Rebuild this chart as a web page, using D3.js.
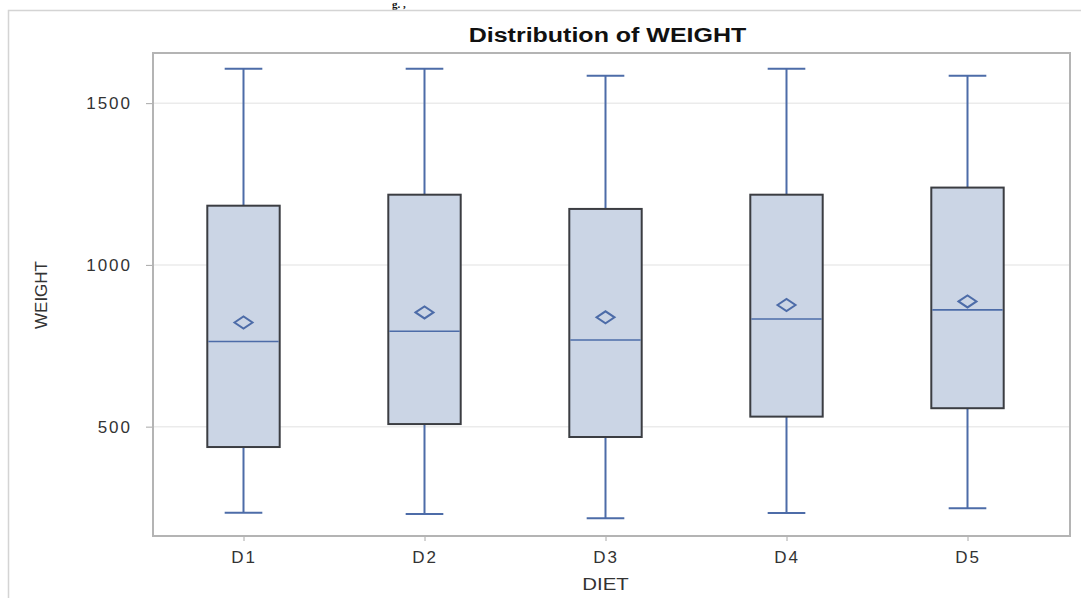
<!DOCTYPE html>
<html>
<head>
<meta charset="utf-8">
<script src="https://cdn.jsdelivr.net/npm/d3@7"></script>
<style>
  body { margin: 0; background: #fff; }
  svg { display: block; }
  text { font-family: "Liberation Sans", Arial, sans-serif; }
</style>
</head>
<body>
<div id="chart"></div>
<script>
// values
var diets = ['D1', 'D2', 'D3', 'D4', 'D5'];
var lowWhisker = [234, 230, 217, 233, 248];
var q1 = [437, 508, 468, 531, 557];
var median = [763, 795, 768, 833, 861];
var q3 = [1183, 1217, 1173, 1217, 1239];
var highWhisker = [1606, 1606, 1585, 1606, 1585];
var means = [822, 853, 838, 876, 887];
var yTicks = [500, 1000, 1500];

var width = 1081, height = 598,
    plotLeft = 153, plotRight = 1070, plotTop = 53, plotBottom = 536,
    stretch = 1.2; // the source picture is a little wider than tall

var svg = d3.select('#chart').append('svg')
    .attr('width', width)
    .attr('height', height);

// bit of caption left above the graph
svg.append('text')
    .attr('x', 392).attr('y', 8)
    .style('font-family', '"Liberation Serif", serif')
    .style('font-size', '11px')
    .style('font-weight', 'bold')
    .attr('fill', '#111')
    .text('g. ,');

// outer frame of the graph
svg.append('rect')
    .attr('x', 8.5).attr('y', 10.5)
    .attr('width', width + 10).attr('height', height)
    .attr('fill', 'none')
    .attr('stroke', '#d4d4d4')
    .attr('stroke-width', 1.5);

var x = d3.scalePoint().domain(diets).range([plotLeft, plotRight - 12]).padding(0.5),
    y = d3.scaleLinear().domain([162, 1655]).range([plotBottom, plotTop]),
    boxW = x.step() * 0.4,
    capW = boxW * 0.52;

var rows = diets.map(function(d, i) {
    return {diet: d, lo: lowWhisker[i], q1: q1[i], med: median[i], q3: q3[i], hi: highWhisker[i], mean: means[i]};
});

// grid lines
svg.append('g').selectAll('line')
    .data(yTicks)
    .enter().append('line')
    .attr('x1', plotLeft).attr('x2', plotRight)
    .attr('y1', function(d) { return y(d); })
    .attr('y2', function(d) { return y(d); })
    .attr('stroke', '#ebebeb')
    .attr('stroke-width', 1.5);

// axes
var yAxis = svg.append('g')
    .attr('transform', 'translate(' + plotLeft + ',0)')
    .call(d3.axisLeft(y).tickValues(yTicks).tickSize(7).tickPadding(14).tickFormat(d3.format('d')));
var xAxis = svg.append('g')
    .attr('transform', 'translate(0,' + plotBottom + ')')
    .call(d3.axisBottom(x).tickSize(5).tickPadding(10));

[yAxis, xAxis].forEach(function(a) {
    a.select('.domain').remove();
    a.selectAll('line').attr('stroke', '#a8a8a8');
    a.selectAll('text')
        .attr('fill', '#333')
        .style('font-size', '17px')
        .style('letter-spacing', '2px');
});

// plot frame
svg.append('rect')
    .attr('x', plotLeft).attr('y', plotTop)
    .attr('width', plotRight - plotLeft).attr('height', plotBottom - plotTop)
    .attr('fill', 'none')
    .attr('stroke', '#b4b4b4')
    .attr('stroke-width', 2);

var boxes = svg.append('g').selectAll('g')
    .data(rows)
    .enter().append('g')
    .attr('transform', function(d) { return 'translate(' + x(d.diet) + ',0)'; });

var blue = '#4d6ca8';

// whiskers
boxes.append('line')
    .attr('y1', function(d) { return y(d.lo); })
    .attr('y2', function(d) { return y(d.hi); })
    .attr('stroke', blue).attr('stroke-width', 2);

boxes.selectAll('.cap')
    .data(function(d) { return [d.lo, d.hi]; })
    .enter().append('line')
    .attr('class', 'cap')
    .attr('x1', -capW / 2).attr('x2', capW / 2)
    .attr('y1', function(v) { return y(v); })
    .attr('y2', function(v) { return y(v); })
    .attr('stroke', blue).attr('stroke-width', 2);

boxes.append('rect')
    .attr('x', -boxW / 2)
    .attr('width', boxW)
    .attr('y', function(d) { return y(d.q3); })
    .attr('height', function(d) { return y(d.q1) - y(d.q3); })
    .attr('fill', '#cbd5e5')
    .attr('stroke', '#3b3d42')
    .attr('stroke-width', 2);

boxes.append('line')
    .attr('x1', -boxW / 2 + 1).attr('x2', boxW / 2 - 1)
    .attr('y1', function(d) { return y(d.med); })
    .attr('y2', function(d) { return y(d.med); })
    .attr('stroke', blue).attr('stroke-width', 1.6);

// mean marker
boxes.append('path')
    .attr('d', function(d) {
        var cy = y(d.mean), w = 9, h = 6;
        return 'M' + (-w) + ',' + cy + 'L0,' + (cy - h) + 'L' + w + ',' + cy + 'L0,' + (cy + h) + 'Z';
    })
    .attr('fill', 'none')
    .attr('stroke', blue)
    .attr('stroke-width', 2);

// titles
svg.append('text')
    .attr('transform', 'translate(' + ((plotLeft + plotRight) / 2 - 4) + ',42) scale(' + (stretch + 0.05) + ',1)')
    .attr('text-anchor', 'middle')
    .style('font-size', '20px')
    .style('font-weight', 'bold')
    .attr('fill', '#111')
    .text('Distribution of WEIGHT');

svg.append('text')
    .attr('transform', 'translate(47,295) rotate(-90)')
    .attr('text-anchor', 'middle')
    .style('font-family', '"Liberation Sans Narrow", "Liberation Sans", Arial, sans-serif')
    .style('font-size', '17px')
    .attr('fill', '#333')
    .text('WEIGHT');

svg.append('text')
    .attr('transform', 'translate(' + x('D3') + ',590) scale(' + stretch + ',1)')
    .attr('text-anchor', 'middle')
    .style('font-size', '17px')
    .attr('fill', '#333')
    .text('DIET');
</script>
</body>
</html>
